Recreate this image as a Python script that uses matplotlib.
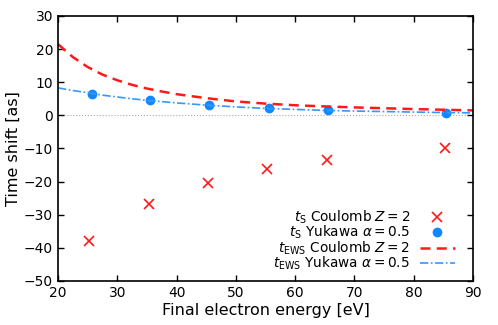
import numpy as np
import matplotlib
matplotlib.use("Agg")
import matplotlib.pyplot as plt

# t_S points
E_coul = [25.2, 35.3, 45.3, 55.3, 65.3, 85.2]
tS_coul = [-38.0, -26.8, -20.4, -16.2, -13.6, -10.0]
E_yuk = [25.7, 35.6, 45.5, 55.6, 65.5, 85.5]
tS_yuk = [6.6, 4.5, 3.0, 2.1, 1.5, 0.8]

# t_EWS curves
E_curve = [20, 22.5, 25, 27.5, 30, 32.5, 35, 37.5, 40, 45, 50, 55, 60, 65, 70, 75, 80, 85, 90]
tEWS_coul = [21.5, 17.6, 14.6, 12.3, 10.6, 9.2, 8.1, 7.2, 6.4, 5.2, 4.2, 3.55, 3.05, 2.7, 2.4, 2.15, 1.9, 1.7, 1.5]
tEWS_yuk = [8.3, 7.5, 6.85, 6.1, 5.55, 5.0, 4.55, 4.15, 3.75, 3.1, 2.55, 2.1, 1.8, 1.5, 1.3, 1.15, 1.0, 0.85, 0.75]

red = "#ff1a1a"
blue = "#1188ff"

fig = plt.figure(figsize=(4.98, 3.25), dpi=100)
ax = fig.add_axes([0.1165, 0.1354, 0.8333, 0.8154])

ax.axhline(0, color="#aaaaaa", lw=0.8, ls=":", zorder=1)
ax.plot(E_coul, tS_coul, ls="none", marker="x", ms=6.5, mew=1.2, color=red,
        label=r"$t_{\mathrm{S}}$ Coulomb $Z=2$")
ax.plot(E_yuk, tS_yuk, ls="none", marker="o", ms=6, color=blue,
        label=r"$t_{\mathrm{S}}$ Yukawa $\alpha=0.5$")
ax.plot(E_curve, tEWS_coul, ls=(0, (4, 2.5)), lw=1.8, color=red,
        label=r"$t_{\mathrm{EWS}}$ Coulomb $Z=2$")
ax.plot(E_curve, tEWS_yuk, ls=(0, (5, 1.5, 1, 1.5)), lw=1.2, color="#3399ff",
        label=r"$t_{\mathrm{EWS}}$ Yukawa $\alpha=0.5$")

ax.set_xlim(20, 90)
ax.set_ylim(-50, 30)
ax.set_xticks(np.arange(20, 91, 10))
ax.set_yticks(np.arange(-50, 31, 10))
ax.tick_params(direction="in", top=True, right=True, length=4, width=1, labelsize=10)
for s in ax.spines.values():
    s.set_linewidth(1.2)

ax.set_xlabel("Final electron energy [eV]", fontsize=11.5, labelpad=2)
ax.set_ylabel("Time shift [as]", fontsize=11.5, labelpad=2)

ax.legend(loc="lower right", frameon=False, markerfirst=False, fontsize=9.8,
          handlelength=2.6, handletextpad=0.7, labelspacing=-0.15,
          borderaxespad=0.0, bbox_to_anchor=(0.97, 0.013))

fig.savefig("out.png", dpi=100)
